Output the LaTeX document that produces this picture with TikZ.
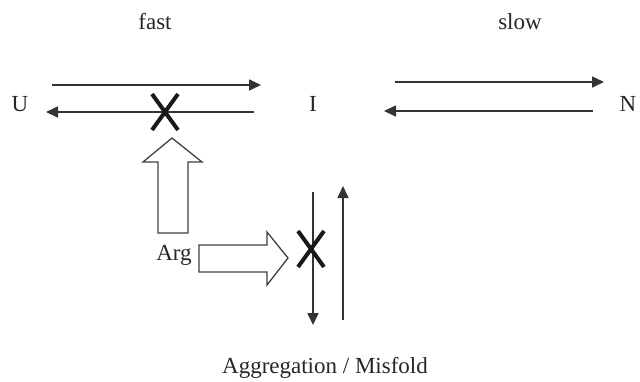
\documentclass[tikz,border=0pt]{standalone}
\usepackage{fontspec}
\setmainfont{Liberation Serif}
\usetikzlibrary{arrows.meta,calc}
\begin{document}
\begin{tikzpicture}[x=1pt,y=-1pt,
  lbl/.style={font=\fontsize{23}{26}\selectfont, inner sep=0pt, text=black!85},
  thinarrow/.style={line width=1.7pt, black!80, -{Triangle[length=12pt,width=11pt]}},
  blockarrow/.style={draw=black!75, line width=1.3pt, fill=white, line join=miter},
  xmark/.style={line width=4pt, black!90}]
\useasboundingbox (0,0) rectangle (640,381);
% labels
\node[lbl] (fast) at (155,22) {fast};
\node[lbl] (slow) at (520,22) {slow};
\node[lbl] (U) at (20,104) {U};
\node[lbl] (I) at (313,104) {I};
\node[lbl] (N) at (628,104) {N};
\node[lbl] (arg) at (174,255) {Arg};
\node[lbl] (agg) at (325,368) {Aggregation / Misfold};
% U <-> I
\coordinate (uiA) at (52,85);  \coordinate (uiB) at (261,85);
\coordinate (iuA) at (254,112); \coordinate (iuB) at (46,112);
\draw[thinarrow] (uiA) -- (uiB);
\draw[thinarrow] (iuA) -- (iuB);
% I <-> N
\coordinate (inA) at (395,82);  \coordinate (inB) at (604,82);
\coordinate (niA) at (593,111); \coordinate (niB) at (384,111);
\draw[thinarrow] (inA) -- (inB);
\draw[thinarrow] (niA) -- (niB);
% aggregation arrows
\coordinate (dnA) at (313,192); \coordinate (dnB) at (313,325);
\coordinate (upA) at (343,320); \coordinate (upB) at (343,186);
\draw[thinarrow] (dnA) -- (dnB);
\draw[thinarrow] (upA) -- (upB);
% X marks
\coordinate (x1) at (165,112);
\draw[xmark] ($(x1)+(-13,-18)$) -- ($(x1)+(13,18)$);
\draw[xmark] ($(x1)+(13,-18)$) -- ($(x1)+(-13,18)$);
\coordinate (x2) at (311,249);
\draw[xmark] ($(x2)+(-13,-18)$) -- ($(x2)+(13,18)$);
\draw[xmark] ($(x2)+(13,-18)$) -- ($(x2)+(-13,18)$);
% block arrow up
\draw[blockarrow] (158,233) -- (158,162) -- (143,162) -- (172,138) -- (202,162) -- (188,162) -- (188,233) -- cycle;
% block arrow right
\draw[blockarrow] (199,245) -- (267,245) -- (267,232) -- (288,258) -- (267,285) -- (267,272) -- (199,272) -- cycle;
\end{tikzpicture}
\end{document}
